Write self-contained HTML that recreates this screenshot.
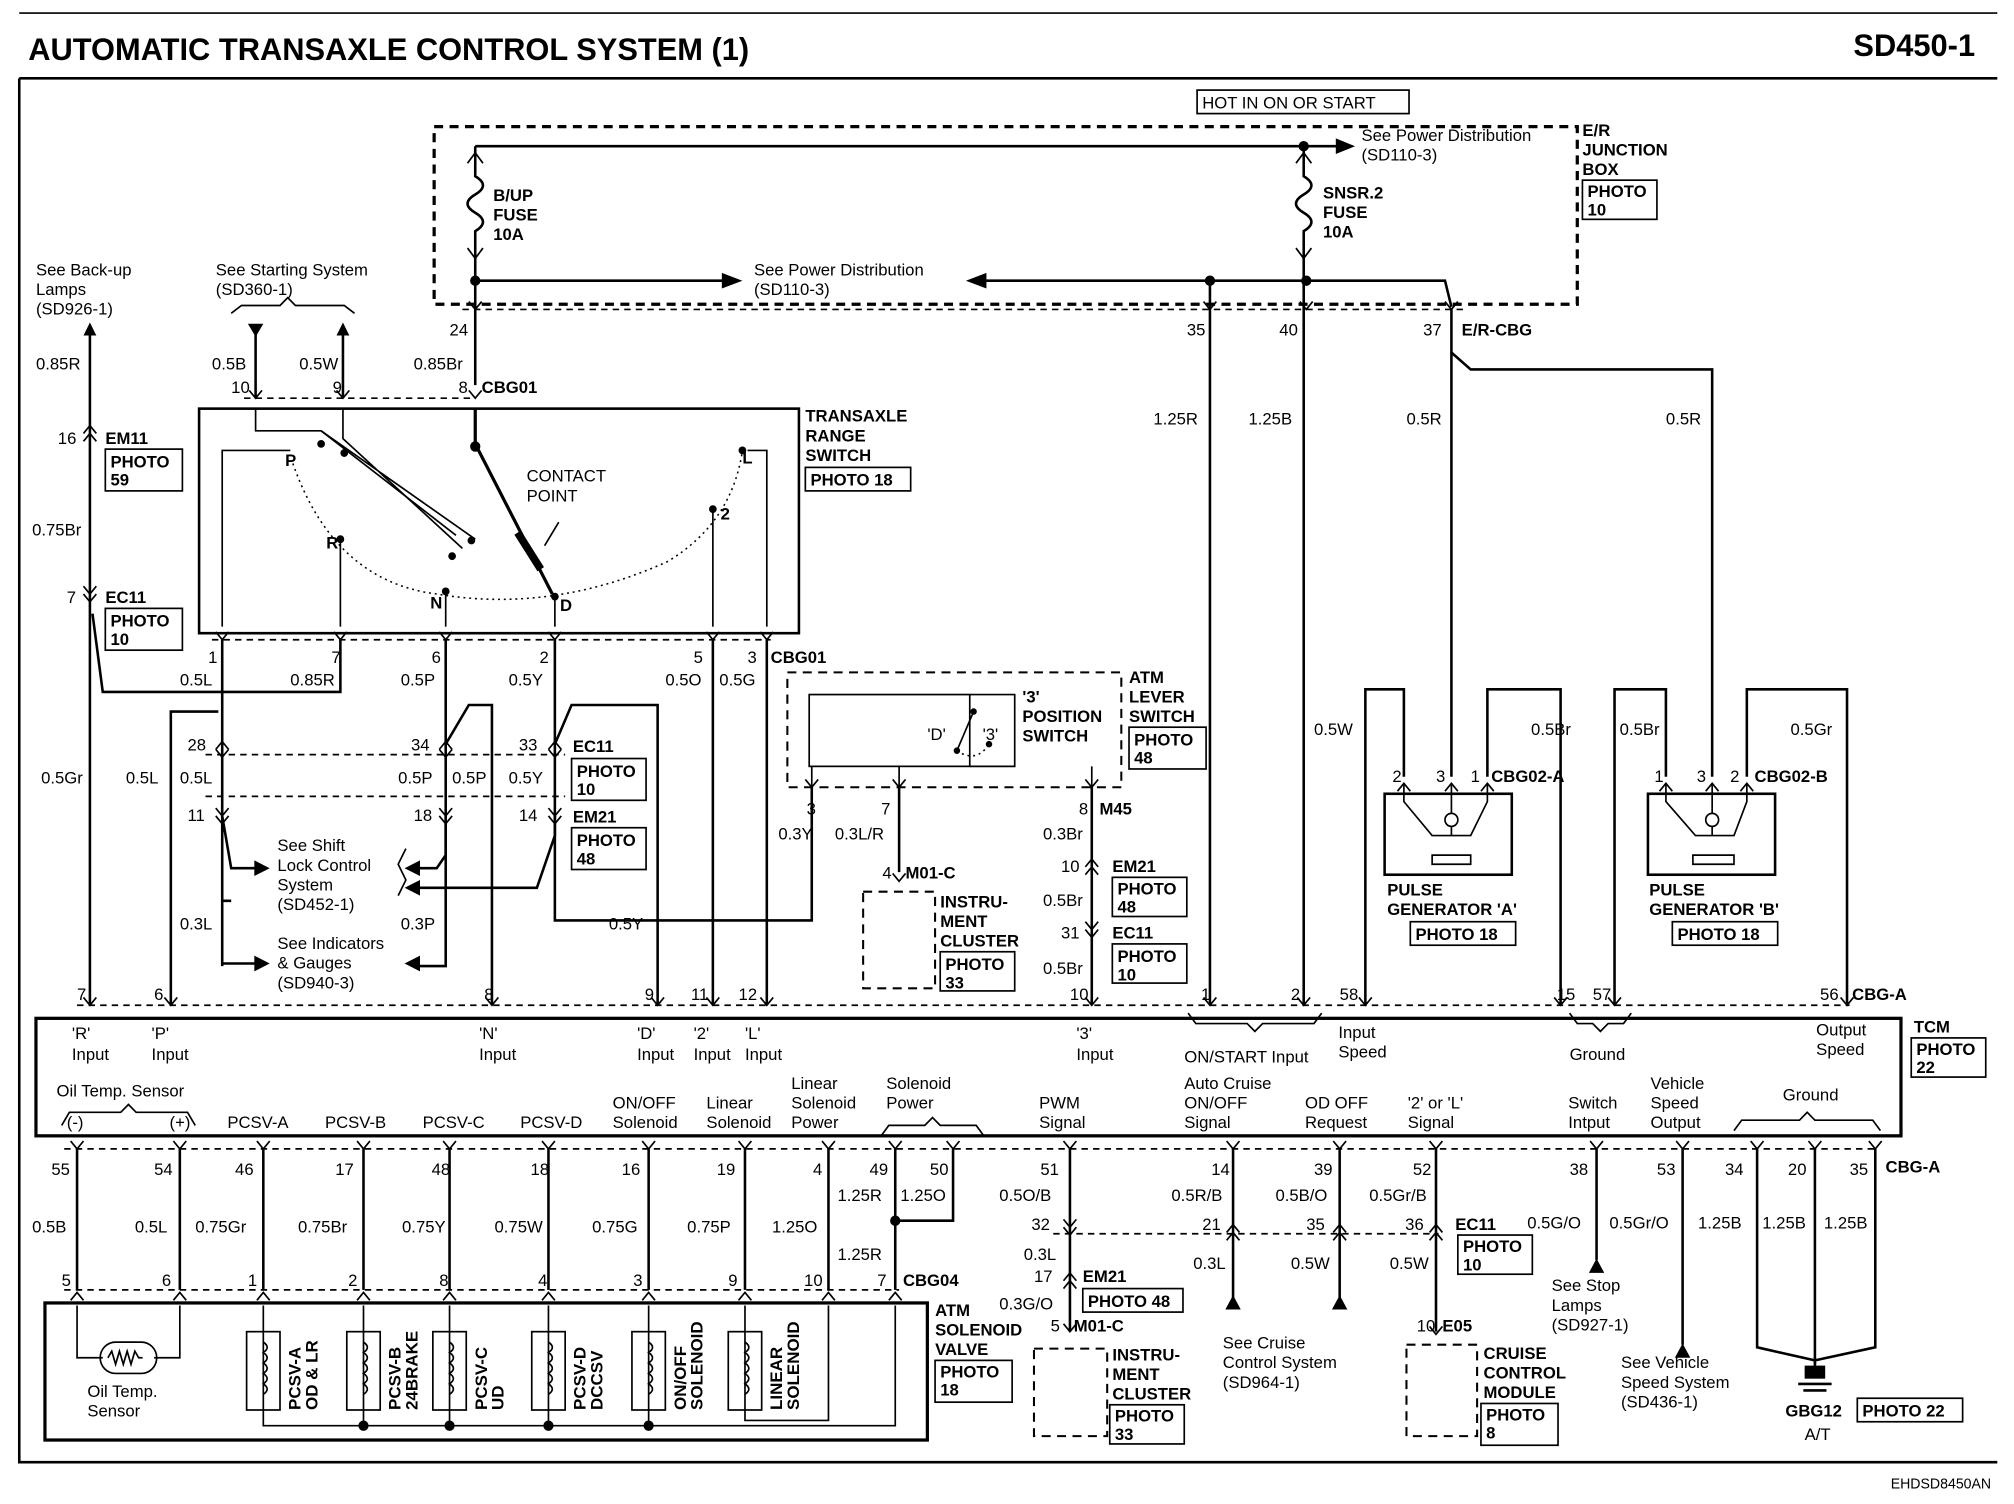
<!DOCTYPE html>
<html><head><meta charset="utf-8"><style>
html,body{margin:0;padding:0;background:#fff}
svg{display:block}
text{font-family:"Liberation Sans",sans-serif;font-size:13px;fill:#000}
.b{font-weight:bold}
.w{stroke:#000;stroke-width:2;fill:none}
.t{stroke:#000;stroke-width:1.3;fill:none}
.d{stroke:#000;stroke-width:1.3;fill:none;stroke-dasharray:5 4}
.dd{stroke:#000;stroke-width:2.5;fill:none;stroke-dasharray:7 5}
.dt{stroke:#000;stroke-width:1.2;fill:none;stroke-dasharray:1.5 3}
.bx{stroke:#000;stroke-width:1.3;fill:#fff}
</style></head><body>
<svg width="2014" height="1504" viewBox="0 0 1568 1152" preserveAspectRatio="none" xmlns="http://www.w3.org/2000/svg">
<defs>
<symbol id="pu" overflow="visible"><path d="M-5 6 L0 0 L5 6" class="t"/></symbol>
<symbol id="pd" overflow="visible"><path d="M-5 -6 L0 0 L5 -6" class="t"/></symbol>
<symbol id="dot" overflow="visible"><circle r="4" fill="#000"/></symbol>
<symbol id="au" overflow="visible"><path d="M-5 10 L0 0 L5 10Z" fill="#000"/></symbol>
</defs>
<path d="M15 60 H1555 M15 60 V1120 H1555" class="w"/>
<line x1="15" y1="10" x2="1555" y2="10" class="t"/>
<text x="22" y="46" class="b" style="font-size:24px">AUTOMATIC TRANSAXLE CONTROL SYSTEM (1)</text>
<text x="1443" y="43" class="b" style="font-size:24px">SD450-1</text>
<text x="1472" y="1140" style="font-size:11px">EHDSD8450AN</text>

<rect x="932" y="69" width="165" height="18" class="bx"/>
<text x="936" y="83">HOT IN ON OR START</text>
<rect x="338" y="97" width="890" height="136" class="dd"/>
<text x="1232" y="104" class="b">E/R</text><text x="1232" y="119" class="b">JUNCTION</text><text x="1232" y="134" class="b">BOX</text>
<rect x="1232" y="138" width="58" height="30" class="bx"/><text x="1236" y="151" class="b">PHOTO</text><text x="1236" y="165" class="b">10</text>
<path d="M370 112 H1050" class="w"/><path d="M1040 106 L1055 112 L1040 118Z"/>
<text x="1060" y="108">See Power Distribution</text><text x="1060" y="123">(SD110-3)</text>
<use href="#dot" x="1015" y="112"/>
<path d="M370 112 V135 q12 7 0 14 q-12 7 0 14 q12 7 0 14 V295" class="w"/>
<path d="M1015 112 V135 q12 7 0 14 q-12 7 0 14 q12 7 0 14 V770" class="w"/>
<path d="M364 125 l6 -8 l6 8 M364 190 l6 8 l6 -8 M1009 125 l6 -8 l6 8 M1009 190 l6 8 l6 -8" class="t"/>
<text x="384" y="154" class="b">B/UP</text><text x="384" y="169" class="b">FUSE</text><text x="384" y="184" class="b">10A</text>
<text x="1030" y="152" class="b">SNSR.2</text><text x="1030" y="167" class="b">FUSE</text><text x="1030" y="182" class="b">10A</text>
<path d="M370 215 H565" class="w"/><path d="M562 209 L578 215 L562 221Z"/>
<text x="587" y="211">See Power Distribution</text><text x="587" y="226">(SD110-3)</text>
<path d="M768 215 H1125 L1130 235" class="w"/><path d="M768 209 L752 215 L768 221Z"/>
<use href="#dot" x="370" y="215"/><use href="#dot" x="942" y="215"/><use href="#dot" x="1017" y="215"/>
<path d="M360 237 H1140" class="d"/>
<use href="#pd" x="370" y="237"/><use href="#pd" x="942" y="237"/><use href="#pd" x="1017" y="237"/><use href="#pd" x="1130" y="237"/>
<text x="350" y="257">24</text><text x="924" y="257">35</text><text x="996" y="257">40</text><text x="1108" y="257">37</text>
<text x="1138" y="257" class="b">E/R-CBG</text>
<path d="M942 215 V770" class="w"/>
<path d="M1130 237 V270 L1145 283 H1333 V595" class="w"/>
<path d="M1130 270 V595" class="w"/>
<text x="898" y="325">1.25R</text><text x="972" y="325">1.25B</text><text x="1095" y="325">0.5R</text><text x="1297" y="325">0.5R</text>

<text x="28" y="211">See Back-up</text><text x="28" y="226">Lamps</text><text x="28" y="241">(SD926-1)</text>
<path d="M70 250 V770" class="w"/><use href="#au" x="70" y="247"/>
<text x="28" y="283">0.85R</text><text x="25" y="410">0.75Br</text><text x="32" y="600">0.5Gr</text>
<use href="#pu" x="70" y="326"/><use href="#pu" x="70" y="332"/><text x="45" y="340">16</text><text x="82" y="340" class="b">EM11</text>
<rect x="82" y="344" width="60" height="32" class="bx"/><text x="86" y="358" class="b">PHOTO</text><text x="86" y="372" class="b">59</text>
<use href="#pd" x="70" y="455"/><use href="#pd" x="70" y="461"/><text x="52" y="462">7</text><text x="82" y="462" class="b">EC11</text>
<rect x="82" y="466" width="60" height="32" class="bx"/><text x="86" y="480" class="b">PHOTO</text><text x="86" y="494" class="b">10</text>
<path d="M72 470 L80 530 H265 V490" class="w"/>
<text x="168" y="211">See Starting System</text><text x="168" y="226">(SD360-1)</text>
<path d="M180 240 l8 -6 h30 l6 -6 l6 6 h38 l8 6" class="t"/>
<path d="M199 255 V305 M267 255 V305" class="w"/>
<path d="M193 248 L205 248 L199 258Z"/><use href="#au" x="267" y="247"/>
<text x="165" y="283">0.5B</text><text x="233" y="283">0.5W</text><text x="322" y="283">0.85Br</text>
<path d="M190 305 H370" class="d"/>
<text x="180" y="301">10</text><text x="259" y="301">9</text><text x="357" y="301">8</text><text x="375" y="301" class="b">CBG01</text>
<use href="#pd" x="199" y="305"/><use href="#pd" x="267" y="305"/><use href="#pd" x="370" y="305"/>

<rect x="155" y="313" width="467" height="172" class="w"/>
<text x="627" y="323" class="b">TRANSAXLE</text><text x="627" y="338" class="b">RANGE</text><text x="627" y="353" class="b">SWITCH</text>
<rect x="627" y="358" width="82" height="18" class="bx"/><text x="631" y="372" class="b">PHOTO 18</text>
<path d="M199 313 V330 L250 330 L370 413 M267 313 V336 L360 420" class="t"/>
<path d="M250 330 L355 410" class="t"/>
<circle cx="250" cy="340" r="3"/><circle cx="268" cy="347" r="3"/><circle cx="367" cy="414" r="3"/><circle cx="352" cy="426" r="3"/>
<path d="M370 313 V340 L430 455" class="w" style="stroke-width:2.5"/><circle cx="370" cy="342" r="4"/>
<path d="M403 408 l18 28" stroke="#000" stroke-width="6"/>
<path d="M424 418 L435 400" class="t"/>
<text x="410" y="369">CONTACT</text><text x="410" y="384">POINT</text>
<path d="M228 355 Q260 445 340 455 Q430 470 520 430 Q570 400 578 345" class="dt"/>
<path d="M173 480 V345 H226" class="t"/><text x="222" y="357" class="b">P</text>
<path d="M265 480 V413" class="t"/><circle cx="265" cy="413" r="3"/><text x="254" y="420" class="b">R</text>
<path d="M347 480 V453" class="t"/><circle cx="347" cy="453" r="3"/><text x="335" y="466" class="b">N</text>
<path d="M432 480 V457" class="t"/><circle cx="432" cy="457" r="3"/><text x="436" y="468" class="b">D</text>
<path d="M555 480 V390" class="t"/><circle cx="555" cy="390" r="3"/><text x="561" y="398" class="b">2</text>
<path d="M597 480 V345 H582" class="t"/><circle cx="578" cy="345" r="3"/><text x="578" y="355" class="b">L</text>
<path d="M165 490 H600" class="d"/>
<use href="#pd" x="173" y="490"/><use href="#pd" x="265" y="490"/><use href="#pd" x="347" y="490"/><use href="#pd" x="432" y="490"/><use href="#pd" x="555" y="490"/><use href="#pd" x="597" y="490"/>
<text x="162" y="508">1</text><text x="258" y="508">7</text><text x="336" y="508">6</text><text x="420" y="508">2</text><text x="540" y="508">5</text><text x="582" y="508">3</text><text x="600" y="508" class="b">CBG01</text>
<text x="140" y="525">0.5L</text><text x="226" y="525">0.85R</text><text x="312" y="525">0.5P</text><text x="396" y="525">0.5Y</text><text x="518" y="525">0.5O</text><text x="560" y="525">0.5G</text>

<path d="M173 490 V690 L180 690 M173 625 V740" class="w"/>
<path d="M133 770 V545 H165 M165 545 H170" class="w"/>
<path d="M160 578 H440" class="d"/><path d="M160 610 H440" class="d"/>
<use href="#pu" x="173" y="568"/><use href="#pd" x="173" y="580"/><text x="146" y="575">28</text>
<use href="#pd" x="173" y="625"/><use href="#pd" x="173" y="631"/><text x="146" y="629">11</text>
<path d="M173 625 L180 665 H200" class="w"/><path d="M198 659 L210 665 L198 671Z"/>
<path d="M173 738 H200" class="w"/><path d="M198 732 L210 738 L198 744Z"/>
<text x="216" y="652">See Shift</text><text x="216" y="667">Lock Control</text><text x="216" y="682">System</text><text x="216" y="697">(SD452-1)</text>
<path d="M316 650 l-6 12 l6 12 l-6 12" class="t"/>
<text x="216" y="727">See Indicators</text><text x="216" y="742">&amp; Gauges</text><text x="216" y="757">(SD940-3)</text>
<text x="98" y="600">0.5L</text><text x="140" y="600">0.5L</text><text x="140" y="712">0.3L</text>
<path d="M347 490 V570 L365 540 H383 V770 M347 570 V655 L340 665 H325" class="w"/>
<path d="M327 659 L315 665 L327 671Z"/>
<path d="M347 625 V740 H325" class="w"/><path d="M327 732 L315 738 L327 744Z"/>
<use href="#pu" x="347" y="568"/><use href="#pd" x="347" y="580"/><text x="320" y="575">34</text>
<use href="#pd" x="347" y="625"/><use href="#pd" x="347" y="631"/><text x="322" y="629">18</text>
<text x="310" y="600">0.5P</text><text x="352" y="600">0.5P</text><text x="312" y="712">0.3P</text>
<path d="M432 490 V570 L445 540 H512 V770 M432 570 V640 L418 680 H325" class="w"/>
<path d="M327 674 L315 680 L327 686Z"/>
<path d="M432 625 V705 H632 V603" class="w"/>
<use href="#pu" x="432" y="568"/><use href="#pd" x="432" y="580"/><text x="404" y="575">33</text>
<use href="#pd" x="432" y="625"/><use href="#pd" x="432" y="631"/><text x="404" y="629">14</text>
<text x="396" y="600">0.5Y</text><text x="474" y="712">0.5Y</text>
<text x="446" y="576" class="b">EC11</text>
<rect x="445" y="581" width="58" height="32" class="bx"/><text x="449" y="595" class="b">PHOTO</text><text x="449" y="609" class="b">10</text>
<text x="446" y="630" class="b">EM21</text>
<rect x="445" y="634" width="58" height="32" class="bx"/><text x="449" y="648" class="b">PHOTO</text><text x="449" y="662" class="b">48</text>
<path d="M555 490 V770 M597 490 V770" class="w"/>

<rect x="613" y="515" width="260" height="88" class="dd" style="stroke-width:1.6"/>
<rect x="630" y="532" width="125" height="55" class="t"/>
<path d="M755 587 H790 V532 H755" class="t"/>
<circle cx="758" cy="545" r="2.5"/><circle cx="745" cy="575" r="2.5"/><circle cx="770" cy="570" r="2.5"/>
<path d="M758 545 L745 575" class="t"/><path d="M745 575 Q760 585 770 570" class="dt"/>
<text x="722" y="567">'D'</text><text x="765" y="567">'3'</text>
<text x="796" y="538" class="b">'3'</text><text x="796" y="553" class="b">POSITION</text><text x="796" y="568" class="b">SWITCH</text>
<text x="879" y="523" class="b">ATM</text><text x="879" y="538" class="b">LEVER</text><text x="879" y="553" class="b">SWITCH</text>
<rect x="879" y="557" width="60" height="32" class="bx"/><text x="883" y="571" class="b">PHOTO</text><text x="883" y="585" class="b">48</text>
<path d="M632 587 V603 M700 587 V603 M850 587 V603" class="t"/>
<path d="M700 603 V668 M850 603 V770" class="w"/>
<use href="#pd" x="632" y="603"/><use href="#pd" x="700" y="603"/><use href="#pd" x="850" y="603"/>
<text x="628" y="624">3</text><text x="686" y="624">7</text><text x="840" y="624">8</text><text x="856" y="624" class="b">M45</text>
<text x="606" y="643">0.3Y</text><text x="650" y="643">0.3L/R</text><text x="812" y="643">0.3Br</text>
<use href="#pd" x="700" y="675"/><text x="687" y="673">4</text><text x="705" y="673" class="b">M01-C</text>
<rect x="672" y="683" width="56" height="74" class="dd" style="stroke-width:1.6"/>
<text x="732" y="695" class="b">INSTRU-</text><text x="732" y="710" class="b">MENT</text><text x="732" y="725" class="b">CLUSTER</text>
<rect x="732" y="729" width="58" height="30" class="bx"/><text x="736" y="743" class="b">PHOTO</text><text x="736" y="757" class="b">33</text>
<use href="#pu" x="850" y="658"/><use href="#pu" x="850" y="664"/><text x="826" y="668">10</text><text x="866" y="668" class="b">EM21</text>
<rect x="866" y="672" width="58" height="30" class="bx"/><text x="870" y="685" class="b">PHOTO</text><text x="870" y="699" class="b">48</text>
<use href="#pd" x="850" y="712"/><use href="#pd" x="850" y="718"/><text x="826" y="719">31</text><text x="866" y="719" class="b">EC11</text>
<rect x="866" y="723" width="58" height="30" class="bx"/><text x="870" y="737" class="b">PHOTO</text><text x="870" y="751" class="b">10</text>
<text x="812" y="694">0.5Br</text><text x="812" y="746">0.5Br</text>

<path d="M1063 770 V528 H1093 V595 M1158 595 V528 H1215 V770" class="w"/>
<path d="M1257 770 V528 H1297 V595 M1360 595 V528 H1438 V770" class="w"/>
<text x="1023" y="563">0.5W</text><text x="1192" y="563">0.5Br</text><text x="1261" y="563">0.5Br</text><text x="1394" y="563">0.5Gr</text>
<rect x="1078" y="608" width="99" height="62" class="w"/>
<rect x="1283" y="608" width="99" height="62" class="w"/>
<g class="t">
<path d="M1093 600 V614 L1115 640 H1145 L1158 614 V600 M1130 600 V640 M1115 655 H1145 V662 H1115Z"/>
<path d="M1297 600 V614 L1320 640 H1350 L1360 614 V600 M1333 600 V640 M1318 655 H1350 V662 H1318Z"/>
</g>
<circle cx="1130" cy="628" r="5" class="bx"/><circle cx="1333" cy="628" r="5" class="bx"/>
<use href="#pu" x="1093" y="600"/><use href="#pu" x="1130" y="600"/><use href="#pu" x="1158" y="600"/>
<use href="#pu" x="1297" y="600"/><use href="#pu" x="1333" y="600"/><use href="#pu" x="1360" y="600"/>
<text x="1084" y="599">2</text><text x="1118" y="599">3</text><text x="1145" y="599">1</text><text x="1161" y="599" class="b">CBG02-A</text>
<text x="1288" y="599">1</text><text x="1321" y="599">3</text><text x="1347" y="599">2</text><text x="1366" y="599" class="b">CBG02-B</text>
<text x="1080" y="686" class="b">PULSE</text><text x="1080" y="701" class="b">GENERATOR 'A'</text>
<rect x="1098" y="706" width="82" height="18" class="bx"/><text x="1102" y="720" class="b">PHOTO 18</text>
<text x="1284" y="686" class="b">PULSE</text><text x="1284" y="701" class="b">GENERATOR 'B'</text>
<rect x="1302" y="706" width="82" height="18" class="bx"/><text x="1306" y="720" class="b">PHOTO 18</text>

<path d="M60 770 H1440" class="d"/>
<g>
<use href="#pd" x="70" y="770"/><use href="#pd" x="133" y="770"/><use href="#pd" x="383" y="770"/><use href="#pd" x="512" y="770"/><use href="#pd" x="555" y="770"/><use href="#pd" x="597" y="770"/><use href="#pd" x="850" y="770"/><use href="#pd" x="942" y="770"/><use href="#pd" x="1015" y="770"/><use href="#pd" x="1063" y="770"/><use href="#pd" x="1215" y="770"/><use href="#pd" x="1257" y="770"/><use href="#pd" x="1438" y="770"/>
</g>
<text x="60" y="766">7</text><text x="120" y="766">6</text><text x="377" y="766">8</text><text x="502" y="766">9</text><text x="538" y="766">11</text><text x="575" y="766">12</text><text x="833" y="766">10</text><text x="935" y="766">1</text><text x="1005" y="766">2</text><text x="1043" y="766">58</text><text x="1212" y="766">15</text><text x="1240" y="766">57</text><text x="1417" y="766">56</text><text x="1442" y="766" class="b">CBG-A</text>
<rect x="28" y="780" width="1452" height="90" class="w" style="stroke-width:2.5"/>
<text x="1490" y="791" class="b">TCM</text>
<rect x="1488" y="795" width="58" height="30" class="bx"/><text x="1492" y="808" class="b">PHOTO</text><text x="1492" y="822" class="b">22</text>
<g>
<text x="56" y="796">'R'</text><text x="56" y="812">Input</text>
<text x="118" y="796">'P'</text><text x="118" y="812">Input</text>
<text x="373" y="796">'N'</text><text x="373" y="812">Input</text>
<text x="496" y="796">'D'</text><text x="496" y="812">Input</text>
<text x="540" y="796">'2'</text><text x="540" y="812">Input</text>
<text x="580" y="796">'L'</text><text x="580" y="812">Input</text>
<text x="838" y="796">'3'</text><text x="838" y="812">Input</text>
<text x="922" y="814">ON/START Input</text>
<text x="1042" y="795">Input</text><text x="1042" y="810">Speed</text>
<text x="1222" y="812">Ground</text>
<text x="1414" y="793">Output</text><text x="1414" y="808">Speed</text>
<text x="44" y="840">Oil Temp. Sensor</text>
<text x="52" y="864">(-)</text><text x="132" y="864">(+)</text>
<text x="177" y="864">PCSV-A</text><text x="253" y="864">PCSV-B</text><text x="329" y="864">PCSV-C</text><text x="405" y="864">PCSV-D</text>
<text x="477" y="849">ON/OFF</text><text x="477" y="864">Solenoid</text>
<text x="550" y="849">Linear</text><text x="550" y="864">Solenoid</text>
<text x="616" y="834">Linear</text><text x="616" y="849">Solenoid</text><text x="616" y="864">Power</text>
<text x="690" y="834">Solenoid</text><text x="690" y="849">Power</text>
<text x="809" y="849">PWM</text><text x="809" y="864">Signal</text>
<text x="922" y="834">Auto Cruise</text><text x="922" y="849">ON/OFF</text><text x="922" y="864">Signal</text>
<text x="1016" y="849">OD OFF</text><text x="1016" y="864">Request</text>
<text x="1096" y="849">'2' or 'L'</text><text x="1096" y="864">Signal</text>
<text x="1221" y="849">Switch</text><text x="1221" y="864">Intput</text>
<text x="1285" y="834">Vehicle</text><text x="1285" y="849">Speed</text><text x="1285" y="864">Output</text>
<text x="1388" y="843">Ground</text>
</g>
<path d="M48 862 l6 -10 h40 l6 -6 l6 6 h40 l6 10 M925 776 l6 8 h40 l6 6 l6 -6 h40 l6 -8 M1222 776 l6 8 h12 l6 6 l6 -6 h12 l6 -8 M686 870 l6 -8 h28 l6 -6 l6 6 h28 l6 8 M1350 866 l6 -8 h45 l6 -6 l6 6 h45 l6 8" class="t"/>

<path d="M50 880 H1460" class="d"/>
<g class="w">
<path d="M60 880 V988 M140 880 V988 M205 880 V988 M283 880 V988 M350 880 V988 M427 880 V988 M505 880 V988 M580 880 V988 M645 880 V988 M697 880 V988"/>
<path d="M742 880 V935 H697"/>
<path d="M833 880 V1020 M960 880 V1000 M1043 880 V1000 M1118 880 V1020 M1243 880 V965 M1310 880 V1030"/>
<path d="M1368 880 V1032 L1413 1042 M1413 880 V1045 M1460 880 V1032 L1413 1042"/>
</g>
<use href="#dot" x="697" y="935"/>
<g>
<use href="#pd" x="60" y="880"/><use href="#pd" x="140" y="880"/><use href="#pd" x="205" y="880"/><use href="#pd" x="283" y="880"/><use href="#pd" x="350" y="880"/><use href="#pd" x="427" y="880"/><use href="#pd" x="505" y="880"/><use href="#pd" x="580" y="880"/><use href="#pd" x="645" y="880"/><use href="#pd" x="697" y="880"/><use href="#pd" x="742" y="880"/><use href="#pd" x="833" y="880"/><use href="#pd" x="960" y="880"/><use href="#pd" x="1043" y="880"/><use href="#pd" x="1118" y="880"/><use href="#pd" x="1243" y="880"/><use href="#pd" x="1310" y="880"/><use href="#pd" x="1368" y="880"/><use href="#pd" x="1413" y="880"/><use href="#pd" x="1460" y="880"/>
</g>
<text x="40" y="900">55</text><text x="120" y="900">54</text><text x="183" y="900">46</text><text x="261" y="900">17</text><text x="336" y="900">48</text><text x="413" y="900">18</text><text x="484" y="900">16</text><text x="558" y="900">19</text><text x="633" y="900">4</text><text x="677" y="900">49</text><text x="724" y="900">50</text><text x="810" y="900">51</text><text x="943" y="900">14</text><text x="1023" y="900">39</text><text x="1100" y="900">52</text><text x="1222" y="900">38</text><text x="1290" y="900">53</text><text x="1343" y="900">34</text><text x="1392" y="900">20</text><text x="1440" y="900">35</text><text x="1468" y="898" class="b">CBG-A</text>
<text x="25" y="944">0.5B</text><text x="105" y="944">0.5L</text><text x="152" y="944">0.75Gr</text><text x="232" y="944">0.75Br</text><text x="313" y="944">0.75Y</text><text x="385" y="944">0.75W</text><text x="461" y="944">0.75G</text><text x="535" y="944">0.75P</text><text x="601" y="944">1.25O</text>
<text x="652" y="920">1.25R</text><text x="701" y="920">1.25O</text><text x="652" y="965">1.25R</text>
<text x="778" y="920">0.5O/B</text><text x="912" y="920">0.5R/B</text><text x="993" y="920">0.5B/O</text><text x="1066" y="920">0.5Gr/B</text>
<text x="1189" y="941">0.5G/O</text><text x="1253" y="941">0.5Gr/O</text><text x="1322" y="941">1.25B</text><text x="1372" y="941">1.25B</text><text x="1420" y="941">1.25B</text>
<path d="M820 945 H1120" class="d"/>
<use href="#pd" x="833" y="940"/><use href="#pd" x="833" y="946"/><text x="803" y="942">32</text>
<use href="#pu" x="960" y="938"/><use href="#pu" x="960" y="944"/><text x="936" y="942">21</text>
<use href="#pu" x="1043" y="938"/><use href="#pu" x="1043" y="944"/><text x="1017" y="942">35</text>
<use href="#pu" x="1118" y="938"/><use href="#pu" x="1118" y="944"/><text x="1094" y="942">36</text>
<text x="1133" y="942" class="b">EC11</text>
<rect x="1135" y="946" width="58" height="30" class="bx"/><text x="1139" y="959" class="b">PHOTO</text><text x="1139" y="973" class="b">10</text>
<text x="797" y="965">0.3L</text><text x="929" y="972">0.3L</text><text x="1005" y="972">0.5W</text><text x="1082" y="972">0.5W</text>
<path d="M954 1003 L960 992 L966 1003Z M1037 1003 L1043 992 L1049 1003Z M1237 975 L1243 964 L1249 975Z M1304 1040 L1310 1029 L1316 1040Z"/>
<text x="952" y="1033">See Cruise</text><text x="952" y="1048">Control System</text><text x="952" y="1063">(SD964-1)</text>
<text x="1208" y="989">See Stop</text><text x="1208" y="1004">Lamps</text><text x="1208" y="1019">(SD927-1)</text>
<text x="1262" y="1048">See Vehicle</text><text x="1262" y="1063">Speed System</text><text x="1262" y="1078">(SD436-1)</text>
<use href="#pu" x="833" y="975"/><use href="#pu" x="833" y="981"/><text x="805" y="982">17</text><text x="843" y="982" class="b">EM21</text>
<rect x="843" y="987" width="78" height="18" class="bx"/><text x="847" y="1001" class="b">PHOTO 48</text>
<text x="778" y="1003">0.3G/O</text>
<use href="#pd" x="833" y="1020"/><text x="818" y="1020">5</text><text x="836" y="1020" class="b">M01-C</text>
<rect x="805" y="1033" width="57" height="67" class="dd" style="stroke-width:1.6"/>
<text x="866" y="1042" class="b">INSTRU-</text><text x="866" y="1057" class="b">MENT</text><text x="866" y="1072" class="b">CLUSTER</text>
<rect x="864" y="1076" width="58" height="30" class="bx"/><text x="868" y="1089" class="b">PHOTO</text><text x="868" y="1103" class="b">33</text>
<use href="#pd" x="1118" y="1022"/><text x="1103" y="1020">10</text><text x="1123" y="1020" class="b">E05</text>
<rect x="1095" y="1030" width="55" height="70" class="dd" style="stroke-width:1.6"/>
<text x="1155" y="1041" class="b">CRUISE</text><text x="1155" y="1056" class="b">CONTROL</text><text x="1155" y="1071" class="b">MODULE</text>
<rect x="1153" y="1075" width="60" height="32" class="bx"/><text x="1157" y="1088" class="b">PHOTO</text><text x="1157" y="1102" class="b">8</text>
<path d="M1413 1042 V1048" class="w"/>
<rect x="1405" y="1046" width="16" height="10" fill="#000"/>
<path d="M1400 1060 H1426 M1404 1065 H1422" class="w"/>
<text x="1390" y="1085" class="b">GBG12</text><text x="1405" y="1103">A/T</text>
<rect x="1446" y="1071" width="82" height="18" class="bx"/><text x="1450" y="1085" class="b">PHOTO 22</text>

<path d="M50 988 H700" class="d"/>
<text x="48" y="985">5</text><text x="126" y="985">6</text><text x="193" y="985">1</text><text x="271" y="985">2</text><text x="342" y="985">8</text><text x="419" y="985">4</text><text x="493" y="985">3</text><text x="567" y="985">9</text><text x="626" y="985">10</text><text x="683" y="985">7</text><text x="703" y="985" class="b">CBG04</text>
<g>
<use href="#pu" x="60" y="990"/><use href="#pu" x="140" y="990"/><use href="#pu" x="205" y="990"/><use href="#pu" x="283" y="990"/><use href="#pu" x="350" y="990"/><use href="#pu" x="427" y="990"/><use href="#pu" x="505" y="990"/><use href="#pu" x="580" y="990"/><use href="#pu" x="645" y="990"/><use href="#pu" x="697" y="990"/>
</g>
<rect x="35" y="998" width="687" height="105" class="w" style="stroke-width:2.5"/>
<text x="728" y="1008" class="b">ATM</text><text x="728" y="1023" class="b">SOLENOID</text><text x="728" y="1038" class="b">VALVE</text>
<rect x="728" y="1042" width="60" height="32" class="bx"/><text x="732" y="1055" class="b">PHOTO</text><text x="732" y="1069" class="b">18</text>
<g class="t">
<path d="M60 1000 V1040 H80 M120 1040 H140 V1000"/>
<rect x="78" y="1028" width="44" height="24" rx="12"/>
<path d="M84 1040 l3 -5 l3 10 l3 -10 l3 10 l3 -10 l3 10 l3 -10 l3 5 h3"/>
<path d="M205 1000 V1092 H697 V1000 M283 1000 V1092 M350 1000 V1092 M427 1000 V1092 M505 1000 V1092 M580 1000 V1088 H645 V1000"/>
<rect x="192" y="1020" width="26" height="60"/><rect x="270" y="1020" width="26" height="60"/><rect x="337" y="1020" width="26" height="60"/><rect x="414" y="1020" width="26" height="60"/><rect x="492" y="1020" width="26" height="60"/><rect x="567" y="1020" width="26" height="60"/>
<path d="M205 1028 q6 4 0 8 q6 4 0 8 q6 4 0 8 q6 4 0 8 q6 4 0 8 M283 1028 q6 4 0 8 q6 4 0 8 q6 4 0 8 q6 4 0 8 q6 4 0 8 M350 1028 q6 4 0 8 q6 4 0 8 q6 4 0 8 q6 4 0 8 q6 4 0 8 M427 1028 q6 4 0 8 q6 4 0 8 q6 4 0 8 q6 4 0 8 q6 4 0 8 M505 1028 q6 4 0 8 q6 4 0 8 q6 4 0 8 q6 4 0 8 q6 4 0 8 M580 1028 q6 4 0 8 q6 4 0 8 q6 4 0 8 q6 4 0 8 q6 4 0 8"/>
</g>
<use href="#dot" x="283" y="1092"/><use href="#dot" x="350" y="1092"/><use href="#dot" x="427" y="1092"/><use href="#dot" x="505" y="1092"/>
<text x="68" y="1070">Oil Temp.</text><text x="68" y="1085">Sensor</text>
<g class="b" style="font-size:12px">
<text transform="translate(234,1080) rotate(-90)">PCSV-A</text><text transform="translate(247,1080) rotate(-90)">OD &amp; LR</text>
<text transform="translate(312,1080) rotate(-90)">PCSV-B</text><text transform="translate(325,1080) rotate(-90)">24BRAKE</text>
<text transform="translate(379,1080) rotate(-90)">PCSV-C</text><text transform="translate(392,1080) rotate(-90)">UD</text>
<text transform="translate(456,1080) rotate(-90)">PCSV-D</text><text transform="translate(469,1080) rotate(-90)">DCCSV</text>
<text transform="translate(534,1080) rotate(-90)">ON/OFF</text><text transform="translate(547,1080) rotate(-90)">SOLENOID</text>
<text transform="translate(609,1080) rotate(-90)">LINEAR</text><text transform="translate(622,1080) rotate(-90)">SOLENOID</text>
</g>
</svg>
</body></html>
